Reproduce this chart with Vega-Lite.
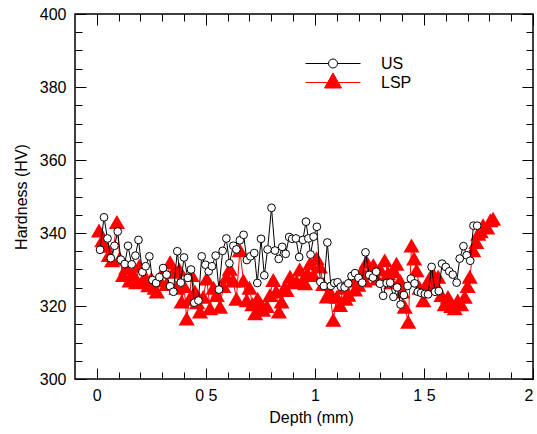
{
  "$schema": "https://vega.github.io/schema/vega-lite/v6.json",
  "width": 458,
  "height": 365,
  "autosize": {"type": "none"},
  "padding": {"left": 75, "top": 14, "right": 4, "bottom": 55},
  "background": "white",
  "config": {
    "view": {"stroke": "black", "strokeWidth": 1.5},
    "font": "Liberation Sans",
    "axis": {
      "grid": false,
      "domain": false,
      "tickColor": "black",
      "tickWidth": 1,
      "labelColor": "black",
      "titleColor": "black",
      "labelFontSize": 16,
      "titleFontSize": 16,
      "titleFontWeight": "normal"
    }
  },
  "datasets": {
    "us": [
      {"depth": 0.015, "hv": 335.4}, {"depth": 0.033, "hv": 344.3}, {"depth": 0.049, "hv": 338.5}, {"depth": 0.064, "hv": 333.1},
      {"depth": 0.081, "hv": 336.5}, {"depth": 0.096, "hv": 340.4}, {"depth": 0.110, "hv": 332.7}, {"depth": 0.128, "hv": 331.5},
      {"depth": 0.143, "hv": 336.5}, {"depth": 0.160, "hv": 331.4}, {"depth": 0.177, "hv": 333.8}, {"depth": 0.191, "hv": 338.1},
      {"depth": 0.209, "hv": 329.3}, {"depth": 0.224, "hv": 330.9}, {"depth": 0.241, "hv": 333.6}, {"depth": 0.255, "hv": 327.1},
      {"depth": 0.272, "hv": 326.3}, {"depth": 0.287, "hv": 327.9}, {"depth": 0.304, "hv": 330.4}, {"depth": 0.320, "hv": 328.6},
      {"depth": 0.336, "hv": 325.4}, {"depth": 0.351, "hv": 323.9}, {"depth": 0.369, "hv": 335.0}, {"depth": 0.385, "hv": 326.4},
      {"depth": 0.400, "hv": 333.3}, {"depth": 0.417, "hv": 327.7}, {"depth": 0.432, "hv": 330.0}, {"depth": 0.447, "hv": 320.9},
      {"depth": 0.466, "hv": 321.5}, {"depth": 0.481, "hv": 333.6}, {"depth": 0.498, "hv": 331.3}, {"depth": 0.513, "hv": 329.5},
      {"depth": 0.528, "hv": 330.9}, {"depth": 0.545, "hv": 333.8}, {"depth": 0.560, "hv": 324.5}, {"depth": 0.577, "hv": 335.1},
      {"depth": 0.594, "hv": 338.5}, {"depth": 0.608, "hv": 331.7}, {"depth": 0.626, "hv": 336.5}, {"depth": 0.640, "hv": 335.5},
      {"depth": 0.656, "hv": 338.0}, {"depth": 0.673, "hv": 339.5}, {"depth": 0.688, "hv": 332.6}, {"depth": 0.704, "hv": 333.6},
      {"depth": 0.722, "hv": 334.5}, {"depth": 0.736, "hv": 326.3}, {"depth": 0.753, "hv": 338.4}, {"depth": 0.768, "hv": 328.4},
      {"depth": 0.783, "hv": 335.5}, {"depth": 0.801, "hv": 346.9}, {"depth": 0.817, "hv": 335.2}, {"depth": 0.834, "hv": 332.9},
      {"depth": 0.850, "hv": 336.2}, {"depth": 0.866, "hv": 334.3}, {"depth": 0.882, "hv": 338.9}, {"depth": 0.896, "hv": 338.4},
      {"depth": 0.913, "hv": 338.5}, {"depth": 0.928, "hv": 333.4}, {"depth": 0.945, "hv": 338.1}, {"depth": 0.959, "hv": 343.1},
      {"depth": 0.970, "hv": 338.5}, {"depth": 0.980, "hv": 334.1}, {"depth": 0.994, "hv": 339.0}, {"depth": 1.009, "hv": 341.7},
      {"depth": 1.025, "hv": 326.6}, {"depth": 1.041, "hv": 325.5}, {"depth": 1.057, "hv": 337.4}, {"depth": 1.073, "hv": 325.5},
      {"depth": 1.089, "hv": 326.3}, {"depth": 1.104, "hv": 326.5}, {"depth": 1.119, "hv": 325.3}, {"depth": 1.136, "hv": 325.1},
      {"depth": 1.153, "hv": 326.2}, {"depth": 1.168, "hv": 328.2}, {"depth": 1.184, "hv": 329.0}, {"depth": 1.200, "hv": 327.7},
      {"depth": 1.217, "hv": 326.4}, {"depth": 1.232, "hv": 334.7}, {"depth": 1.249, "hv": 328.5}, {"depth": 1.266, "hv": 327.8},
      {"depth": 1.281, "hv": 329.4}, {"depth": 1.298, "hv": 326.1}, {"depth": 1.313, "hv": 322.8}, {"depth": 1.329, "hv": 326.3},
      {"depth": 1.345, "hv": 326.4}, {"depth": 1.360, "hv": 322.5}, {"depth": 1.377, "hv": 325.1}, {"depth": 1.393, "hv": 320.4},
      {"depth": 1.408, "hv": 323.0}, {"depth": 1.425, "hv": 325.5}, {"depth": 1.440, "hv": 327.5}, {"depth": 1.457, "hv": 326.2},
      {"depth": 1.472, "hv": 323.9}, {"depth": 1.487, "hv": 323.6}, {"depth": 1.504, "hv": 323.3}, {"depth": 1.519, "hv": 323.2},
      {"depth": 1.535, "hv": 330.7}, {"depth": 1.551, "hv": 323.9}, {"depth": 1.568, "hv": 324.1}, {"depth": 1.583, "hv": 331.6},
      {"depth": 1.600, "hv": 330.7}, {"depth": 1.616, "hv": 329.5}, {"depth": 1.632, "hv": 328.6}, {"depth": 1.650, "hv": 326.4},
      {"depth": 1.664, "hv": 333.0}, {"depth": 1.681, "hv": 336.4}, {"depth": 1.696, "hv": 333.9}, {"depth": 1.712, "hv": 332.4},
      {"depth": 1.727, "hv": 342.0}, {"depth": 1.744, "hv": 342.0}
    ],
    "lsp": [
      {"depth": 0.010, "hv": 340.7}, {"depth": 0.025, "hv": 338.0}, {"depth": 0.040, "hv": 336.5}, {"depth": 0.055, "hv": 334.0},
      {"depth": 0.070, "hv": 332.5}, {"depth": 0.092, "hv": 343.0}, {"depth": 0.105, "hv": 333.0}, {"depth": 0.120, "hv": 328.5},
      {"depth": 0.135, "hv": 330.5}, {"depth": 0.150, "hv": 327.0}, {"depth": 0.165, "hv": 329.0}, {"depth": 0.180, "hv": 326.5},
      {"depth": 0.195, "hv": 331.0}, {"depth": 0.210, "hv": 327.0}, {"depth": 0.222, "hv": 328.0}, {"depth": 0.236, "hv": 325.7},
      {"depth": 0.250, "hv": 327.5}, {"depth": 0.265, "hv": 325.0}, {"depth": 0.275, "hv": 324.0}, {"depth": 0.290, "hv": 327.0},
      {"depth": 0.305, "hv": 329.5}, {"depth": 0.320, "hv": 326.0}, {"depth": 0.336, "hv": 332.0}, {"depth": 0.351, "hv": 329.4},
      {"depth": 0.365, "hv": 325.0}, {"depth": 0.378, "hv": 330.0}, {"depth": 0.389, "hv": 321.2}, {"depth": 0.400, "hv": 325.5},
      {"depth": 0.412, "hv": 316.6}, {"depth": 0.425, "hv": 322.0}, {"depth": 0.435, "hv": 328.5}, {"depth": 0.450, "hv": 324.0},
      {"depth": 0.460, "hv": 321.0}, {"depth": 0.473, "hv": 318.5}, {"depth": 0.488, "hv": 322.5}, {"depth": 0.504, "hv": 327.5},
      {"depth": 0.519, "hv": 319.4}, {"depth": 0.535, "hv": 325.0}, {"depth": 0.550, "hv": 323.0}, {"depth": 0.565, "hv": 319.8},
      {"depth": 0.580, "hv": 325.5}, {"depth": 0.595, "hv": 328.0}, {"depth": 0.610, "hv": 330.2}, {"depth": 0.625, "hv": 327.0},
      {"depth": 0.640, "hv": 322.0}, {"depth": 0.656, "hv": 335.3}, {"depth": 0.672, "hv": 327.0}, {"depth": 0.687, "hv": 321.6},
      {"depth": 0.700, "hv": 325.0}, {"depth": 0.713, "hv": 320.5}, {"depth": 0.726, "hv": 318.0}, {"depth": 0.737, "hv": 322.0},
      {"depth": 0.748, "hv": 320.8}, {"depth": 0.762, "hv": 319.0}, {"depth": 0.779, "hv": 320.0}, {"depth": 0.794, "hv": 323.0},
      {"depth": 0.809, "hv": 327.1}, {"depth": 0.822, "hv": 324.0}, {"depth": 0.835, "hv": 318.5}, {"depth": 0.847, "hv": 321.2},
      {"depth": 0.860, "hv": 325.0}, {"depth": 0.870, "hv": 324.4}, {"depth": 0.886, "hv": 328.0}, {"depth": 0.900, "hv": 326.5},
      {"depth": 0.916, "hv": 326.7}, {"depth": 0.930, "hv": 330.0}, {"depth": 0.943, "hv": 327.0}, {"depth": 0.955, "hv": 326.2},
      {"depth": 0.965, "hv": 329.0}, {"depth": 0.978, "hv": 331.7}, {"depth": 0.993, "hv": 328.5}, {"depth": 1.008, "hv": 333.1},
      {"depth": 1.023, "hv": 330.8}, {"depth": 1.038, "hv": 326.0}, {"depth": 1.054, "hv": 322.6}, {"depth": 1.068, "hv": 324.0},
      {"depth": 1.084, "hv": 316.2}, {"depth": 1.100, "hv": 322.5}, {"depth": 1.115, "hv": 320.3}, {"depth": 1.130, "hv": 325.0},
      {"depth": 1.140, "hv": 322.0}, {"depth": 1.153, "hv": 323.1}, {"depth": 1.168, "hv": 327.0}, {"depth": 1.184, "hv": 324.5},
      {"depth": 1.199, "hv": 325.8}, {"depth": 1.215, "hv": 329.5}, {"depth": 1.228, "hv": 327.0}, {"depth": 1.237, "hv": 332.1},
      {"depth": 1.252, "hv": 329.0}, {"depth": 1.268, "hv": 331.2}, {"depth": 1.285, "hv": 327.5}, {"depth": 1.300, "hv": 330.0},
      {"depth": 1.320, "hv": 332.5}, {"depth": 1.335, "hv": 329.0}, {"depth": 1.350, "hv": 326.5}, {"depth": 1.362, "hv": 329.5},
      {"depth": 1.374, "hv": 331.6}, {"depth": 1.390, "hv": 327.0}, {"depth": 1.400, "hv": 324.0}, {"depth": 1.412, "hv": 319.8},
      {"depth": 1.428, "hv": 315.7}, {"depth": 1.443, "hv": 336.6}, {"depth": 1.455, "hv": 333.0}, {"depth": 1.466, "hv": 329.8},
      {"depth": 1.480, "hv": 325.0}, {"depth": 1.497, "hv": 321.6}, {"depth": 1.510, "hv": 325.5}, {"depth": 1.525, "hv": 327.5},
      {"depth": 1.540, "hv": 329.0}, {"depth": 1.553, "hv": 326.0}, {"depth": 1.565, "hv": 328.0}, {"depth": 1.580, "hv": 323.0},
      {"depth": 1.595, "hv": 320.5}, {"depth": 1.610, "hv": 322.5}, {"depth": 1.625, "hv": 320.0}, {"depth": 1.641, "hv": 319.4},
      {"depth": 1.655, "hv": 321.5}, {"depth": 1.670, "hv": 320.5}, {"depth": 1.687, "hv": 322.5}, {"depth": 1.700, "hv": 325.5},
      {"depth": 1.710, "hv": 328.0}, {"depth": 1.726, "hv": 335.3}, {"depth": 1.740, "hv": 337.5}, {"depth": 1.749, "hv": 339.8},
      {"depth": 1.760, "hv": 340.5}, {"depth": 1.771, "hv": 342.1}, {"depth": 1.790, "hv": 341.5}, {"depth": 1.805, "hv": 343.5},
      {"depth": 1.817, "hv": 343.9}
    ],
    "legend": [
      {"series": "US"}, {"series": "LSP"}
    ]
  },
  "resolve": {"axis": {"x": "independent", "y": "independent"}},
  "layer": [
    {
      "data": {"name": "lsp"},
      "mark": {"type": "line", "color": "red", "strokeWidth": 1},
      "encoding": {
        "x": {
          "field": "depth", "type": "quantitative",
          "scale": {"domain": [-0.1, 2], "nice": false, "zero": false},
          "axis": {
            "orient": "bottom",
            "title": "Depth (mm)",
            "titleX": 236,
            "values": [0, 0.1, 0.2, 0.3, 0.4, 0.5, 0.6, 0.7, 0.8, 0.9, 1, 1.1, 1.2, 1.3, 1.4, 1.5, 1.6, 1.7, 1.8, 1.9, 2],
            "tickSize": {"condition": {"test": "abs(datum.value*2 - round(datum.value*2)) < 0.001", "value": -11}, "value": -7},
            "labelExpr": "abs(datum.value*2 - round(datum.value*2)) < 0.001 ? replace(toString(datum.value), '.', ' ') : ''",
            "labelPadding": 19,
            "titlePadding": 6
          }
        },
        "y": {
          "field": "hv", "type": "quantitative",
          "scale": {"domain": [300, 400], "nice": false, "zero": false},
          "axis": {
            "orient": "left",
            "title": "Hardness (HV)",
            "values": [300, 305, 310, 315, 320, 325, 330, 335, 340, 345, 350, 355, 360, 365, 370, 375, 380, 385, 390, 395, 400],
            "tickSize": {"condition": {"test": "datum.value % 20 == 0", "value": -11}, "value": -7},
            "labelExpr": "datum.value % 20 == 0 ? datum.label : ''",
            "labelPadding": 20,
            "titlePadding": 10
          }
        }
      }
    },
    {
      "data": {"name": "lsp"},
      "mark": {"type": "point", "shape": "triangle-up", "filled": true, "color": "red", "size": 260, "opacity": 1},
      "encoding": {
        "x": {
          "field": "depth", "type": "quantitative",
          "axis": {
            "orient": "top",
            "title": null,
            "labels": false,
            "values": [0, 0.1, 0.2, 0.3, 0.4, 0.5, 0.6, 0.7, 0.8, 0.9, 1, 1.1, 1.2, 1.3, 1.4, 1.5, 1.6, 1.7, 1.8, 1.9, 2],
            "tickSize": {"condition": {"test": "abs(datum.value*2 - round(datum.value*2)) < 0.001", "value": -11}, "value": -7}
          }
        },
        "y": {
          "field": "hv", "type": "quantitative",
          "axis": {
            "orient": "right",
            "title": null,
            "labels": false,
            "values": [300, 305, 310, 315, 320, 325, 330, 335, 340, 345, 350, 355, 360, 365, 370, 375, 380, 385, 390, 395, 400],
            "tickSize": {"condition": {"test": "datum.value % 20 == 0", "value": -11}, "value": -7}
          }
        }
      }
    },
    {
      "data": {"name": "us"},
      "mark": {"type": "line", "color": "black", "strokeWidth": 1},
      "encoding": {
        "x": {"field": "depth", "type": "quantitative", "axis": null},
        "y": {"field": "hv", "type": "quantitative", "axis": null}
      }
    },
    {
      "data": {"name": "us"},
      "mark": {"type": "point", "shape": "circle", "filled": true, "fill": "white", "stroke": "black", "strokeWidth": 1, "size": 60, "opacity": 1},
      "encoding": {
        "x": {"field": "depth", "type": "quantitative", "axis": null},
        "y": {"field": "hv", "type": "quantitative", "axis": null}
      }
    },
    {
      "data": {"name": "legend"},
      "transform": [{"filter": "datum.series == 'none'"}],
      "mark": {"type": "point", "filled": true, "strokeWidth": 1, "size": 400, "opacity": 1},
      "encoding": {
        "shape": {
          "field": "series", "type": "nominal",
          "scale": {"domain": ["US", "LSP"], "range": ["M-4.5,0 L-2.2,0 M-1.3,0 A0.45,0.45 0 1,1 -2.2,0 A0.45,0.45 0 1,1 -1.3,0 Z M-1.3,0 L1,0", "M-4.5,0 L1,0 M-1.75,-0.95 L-2.6,0.55 L-0.9,0.55 Z"]},
          "legend": {"orient": "none", "legendX": 265, "legendY": 39, "title": null, "padding": 0, "labelFontSize": 16, "labelColor": "black", "labelOffset": 20, "rowPadding": -1, "symbolStrokeWidth": 1, "symbolSize": 400}
        },
        "fill": {
          "field": "series", "type": "nominal",
          "scale": {"domain": ["US", "LSP"], "range": ["white", "red"]},
          "legend": {"orient": "none", "legendX": 265, "legendY": 39, "title": null, "padding": 0, "labelFontSize": 16, "labelColor": "black", "labelOffset": 20, "rowPadding": -1, "symbolStrokeWidth": 1, "symbolSize": 400}
        },
        "stroke": {
          "field": "series", "type": "nominal",
          "scale": {"domain": ["US", "LSP"], "range": ["black", "red"]},
          "legend": {"orient": "none", "legendX": 265, "legendY": 39, "title": null, "padding": 0, "labelFontSize": 16, "labelColor": "black", "labelOffset": 20, "rowPadding": -1, "symbolStrokeWidth": 1, "symbolSize": 400}
        }
      }
    }
  ]
}
